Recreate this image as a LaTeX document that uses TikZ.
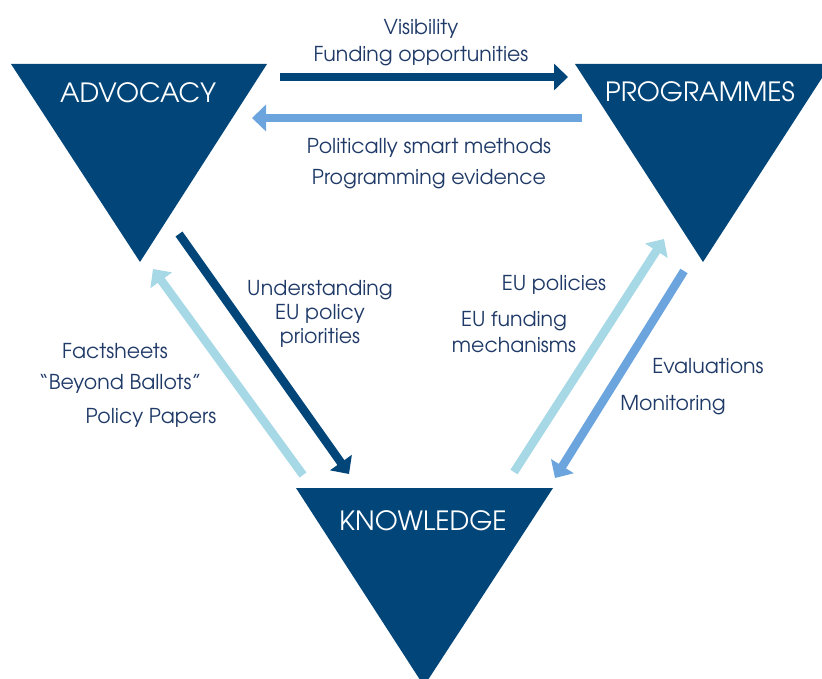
\documentclass[tikz,border=0pt]{standalone}
\usepackage{fontspec}
\setmainfont{TeX Gyre Adventor}
\usetikzlibrary{arrows.meta}
\definecolor{navy}{RGB}{1,69,121}
\definecolor{txt}{RGB}{32,58,104}
\definecolor{midblue}{RGB}{108,164,222}
\definecolor{lightcyan}{RGB}{166,216,230}
\tikzset{
  tri/.style={fill=navy, draw=none},
  trilabel/.style={text=white, font=\fontsize{26.5}{31}\selectfont, inner sep=0pt, anchor=center},
  lbl/.style={text=txt, font=\fontsize{20.5}{24}\selectfont, inner sep=0pt, anchor=center},
  bigarrow/.style={line width=8.5pt, -{Triangle[length=14pt,width=26pt]}},
}
\begin{document}
\begin{tikzpicture}[x=1pt,y=-1pt]
\useasboundingbox (0,0) rectangle (822,679);
\clip (0,0) rectangle (822,679);
% triangles
\fill[tri] (11,64) -- (267,64) -- (140,262) -- cycle;
\fill[tri] (575,64) -- (831,64) -- (703,262) -- cycle;
\fill[tri] (296,488) -- (553,488) -- (424,686) -- cycle;
\node[trilabel] (adv) at (138,93) {ADVOCACY};
\node[trilabel] (prog) at (700,92) {PROGRAMMES};
\node[trilabel] (know) at (423,521) {KNOWLEDGE};
% arrow endpoints
\coordinate (a1s) at (280,77);  \coordinate (a1e) at (568,77);
\coordinate (a2s) at (582,118); \coordinate (a2e) at (252,118);
\coordinate (a3s) at (179,234); \coordinate (a3e) at (349,474);
\coordinate (a4s) at (303,475); \coordinate (a4e) at (153,269);
\coordinate (a5s) at (514,472); \coordinate (a5e) at (664,239);
\coordinate (a6s) at (684,271); \coordinate (a6e) at (555,478);
\draw[bigarrow, navy] (a1s) -- (a1e);
\draw[bigarrow, midblue] (a2s) -- (a2e);
\draw[bigarrow, navy] (a3s) -- (a3e);
\draw[bigarrow, lightcyan] (a4s) -- (a4e);
\draw[bigarrow, lightcyan] (a5s) -- (a5e);
\draw[bigarrow, midblue] (a6s) -- (a6e);
% labels
\node[lbl] (l1) at (421,29) {Visibility};
\node[lbl] (l2) at (421,56) {Funding opportunities};
\node[lbl] (l3) at (429,148) {Politically smart methods};
\node[lbl] (l4) at (429,179) {Programming evidence};
\node[lbl] (l5) at (320,290) {Understanding};
\node[lbl] (l6) at (320,314) {EU policy};
\node[lbl] (l7) at (320,338) {priorities};
\node[lbl] (l8) at (554,285) {EU policies};
\node[lbl] (l9) at (514,321) {EU funding};
\node[lbl] (l10) at (514,345) {mechanisms};
\node[lbl] (l11) at (708,366) {Evaluations};
\node[lbl] (l12) at (673,405) {Monitoring};
\node[lbl] (l13) at (115,351) {Factsheets};
\node[lbl] (l14) at (120,384) {``Beyond Ballots''};
\node[lbl] (l15) at (151,418) {Policy Papers};
\end{tikzpicture}
\end{document}
